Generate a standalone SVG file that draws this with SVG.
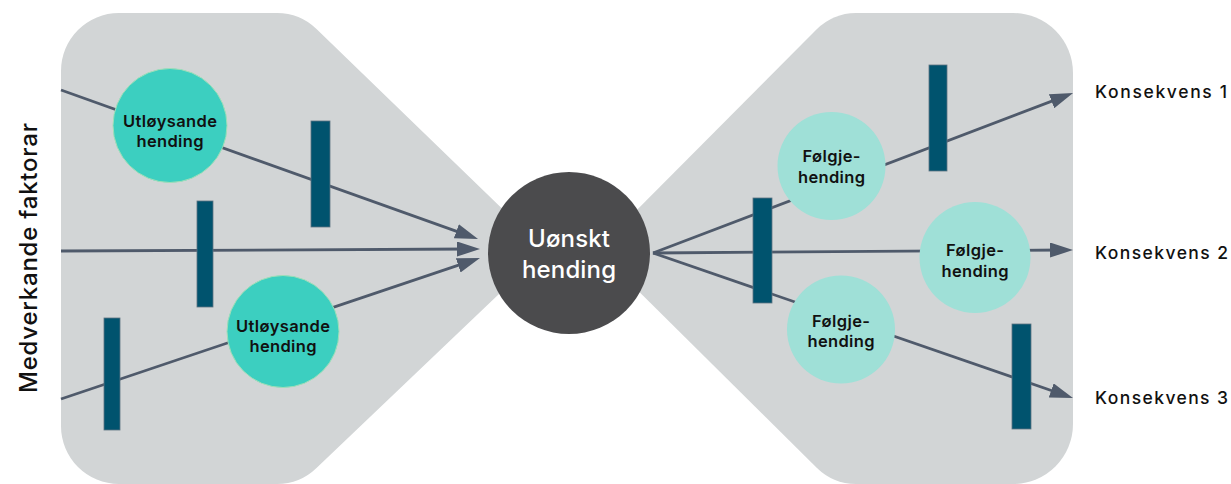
<svg xmlns="http://www.w3.org/2000/svg" width="1231" height="484" viewBox="0 0 1231 484">
  <style>
    .zone { fill: #d2d5d6; }
    .link { fill: none; stroke: #4f5a6b; stroke-width: 2.8; marker-end: url(#arrow); }
    .barrier { fill: #00536e; stroke: #5d7382; stroke-width: 0.8; }
    .cause { fill: #3ccfc0; stroke: #9fdfb8; stroke-width: 1; }
    .effect { fill: #9fe0d7; }
    .top-event { fill: #4b4b4d; }
    .small { font-family: Inter, "Liberation Sans", Arial, sans-serif; font-size: 16.5px; font-weight: 600; fill: #111; text-anchor: middle; }
    .big { font-family: Inter, "Liberation Sans", Arial, sans-serif; font-size: 24px; font-weight: 500; fill: #ffffff; text-anchor: middle; }
    .label { font-family: Inter, "Liberation Sans", Arial, sans-serif; font-size: 17.5px; font-weight: 500; fill: #111; }
    .axis { font-family: Inter, "Liberation Sans", Arial, sans-serif; font-size: 24px; font-weight: 500; fill: #111; text-anchor: middle; }
  </style>
  <defs>
    <marker id="arrow" markerUnits="userSpaceOnUse" viewBox="0 0 23 15" markerWidth="23" markerHeight="15" refX="13" refY="7.5" orient="auto">
      <path d="M0,0 L23,7.5 L0,15 Z" fill="#4f5a6b"/>
    </marker>
  </defs>

  <!-- bow-tie background zones -->
  <g id="zones">
    <path class="zone" d="M61,71 A58,58 0 0 1 119,13 L277,13 A57,57 0 0 1 316.5,29 L545,250 L316.5,468 A57,57 0 0 1 277,484 L119,484 A58,58 0 0 1 61,426 Z"/>
    <path class="zone" d="M597,250 L816.7,29.3 A57,57 0 0 1 856,13 L1013,13 A60,60 0 0 1 1073,73 L1073,424 A60,60 0 0 1 1013,484 L856,484 A57,57 0 0 1 816.7,467.7 Z"/>
  </g>

  <!-- connectors -->
  <g id="connectors">
    <path class="link" d="M61,90 L468.6,235.6"/>
    <path class="link" d="M61,251 L470,249"/>
    <path class="link" d="M61,399 L470.5,261.2"/>
    <path class="link" d="M653,253 L1063.7,96.6"/>
    <path class="link" d="M653,253 L1063,250"/>
    <path class="link" d="M653,253 L1063.5,394.7"/>
  </g>

  <!-- barriers -->
  <g id="barriers">
    <rect id="barrier-l1" class="barrier" x="311" y="121" width="19" height="106"/>
    <rect id="barrier-l2" class="barrier" x="197" y="201" width="16" height="106"/>
    <rect id="barrier-l3" class="barrier" x="104" y="318" width="16" height="112"/>
    <rect id="barrier-r1" class="barrier" x="929" y="65" width="18" height="106"/>
    <rect id="barrier-r2" class="barrier" x="753" y="198" width="19" height="105"/>
    <rect id="barrier-r3" class="barrier" x="1012" y="324" width="19" height="105"/>
  </g>

  <!-- triggering events -->
  <g id="trigger-1">
    <circle class="cause" cx="170" cy="125.5" r="57"/>
    <text class="small" x="170" y="126.5" textLength="94">Utløysande</text>
    <text class="small" x="170" y="147" textLength="67">hending</text>
  </g>
  <g id="trigger-2">
    <circle class="cause" cx="283" cy="331.5" r="56"/>
    <text class="small" x="283" y="331.5" textLength="94">Utløysande</text>
    <text class="small" x="283" y="351.5" textLength="67">hending</text>
  </g>

  <!-- top event -->
  <g id="top-event">
    <circle class="top-event" cx="569" cy="253" r="81"/>
    <text class="big" x="569" y="247" textLength="82">Uønskt</text>
    <text class="big" x="569" y="278" textLength="94">hending</text>
  </g>

  <!-- follow-up events -->
  <g id="followup-1">
    <circle class="effect" cx="831.5" cy="166" r="54"/>
    <text class="small" x="831.5" y="162" textLength="58">Følgje-</text>
    <text class="small" x="831.5" y="183" textLength="67">hending</text>
  </g>
  <g id="followup-2">
    <circle class="effect" cx="975" cy="257.5" r="55.5"/>
    <text class="small" x="975" y="256" textLength="58">Følgje-</text>
    <text class="small" x="975" y="276.5" textLength="67">hending</text>
  </g>
  <g id="followup-3">
    <circle class="effect" cx="841" cy="329.5" r="54"/>
    <text class="small" x="841" y="326.5" textLength="58">Følgje-</text>
    <text class="small" x="841" y="347" textLength="67">hending</text>
  </g>

  <!-- consequences -->
  <g id="consequence-1"><text class="label" x="1095" y="97.5" textLength="132">Konsekvens 1</text></g>
  <g id="consequence-2"><text class="label" x="1095" y="259" textLength="133">Konsekvens 2</text></g>
  <g id="consequence-3"><text class="label" x="1095" y="404" textLength="133">Konsekvens 3</text></g>

  <!-- side axis label -->
  <g id="contributing-factors">
    <text class="axis" transform="translate(36.5,258) rotate(-90)" x="0" y="0" textLength="270">Medverkande faktorar</text>
  </g>
</svg>
